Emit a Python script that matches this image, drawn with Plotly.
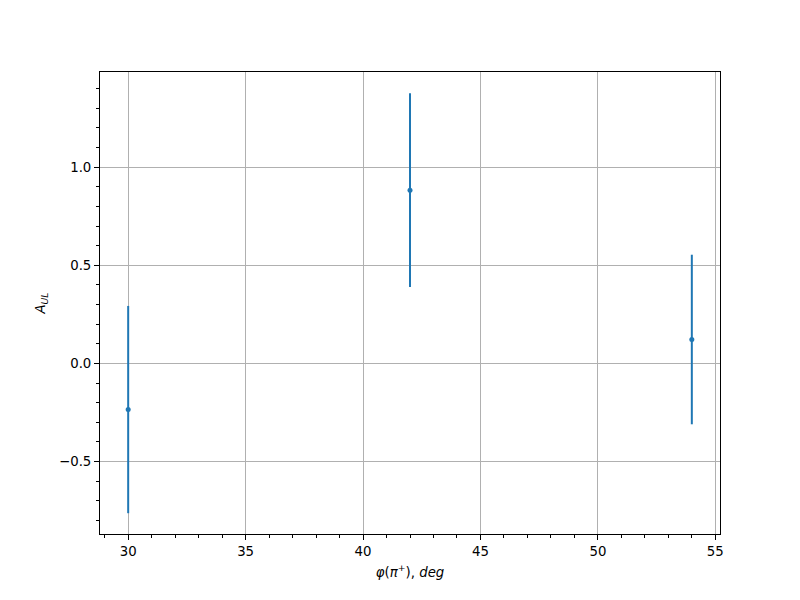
import plotly.graph_objects as go

phi = [30, 42, 54]
a_ul = [-0.235, 0.883, 0.122]
a_err = [0.528, 0.494, 0.432]

fig = go.Figure()
fig.add_trace(go.Scatter(
    x=phi, y=a_ul, mode="markers",
    marker=dict(color="#1f77b4", size=5),
    error_y=dict(type="data", array=a_err, visible=True, color="#1f77b4",
                 thickness=2, width=0),
    showlegend=False,
))

font = dict(family="DejaVu Sans", size=13.3, color="black")
# page body has an 8px default margin; compensate so the plot area sits at 100..720 x 72..534
fig.update_layout(
    width=792, height=592,
    margin=dict(l=92, r=80, t=64, b=66),
    paper_bgcolor="white", plot_bgcolor="white",
    font=font,
)
fig.update_xaxes(
    range=[28.8, 55.2], tickmode="array", tickvals=[30, 35, 40, 45, 50, 55],
    showgrid=True, gridcolor="#b0b0b0", gridwidth=1,
    showline=True, linecolor="black", linewidth=1, mirror=True,
    ticks="outside", ticklen=5, tickcolor="black",
    minor=dict(ticks="outside", dtick=1, ticklen=3, tickcolor="black", showgrid=False),
    zeroline=False, automargin=False,
    title=dict(text="<i>φ</i>(<i>π</i><sup>+</sup>), <i>deg</i>", standoff=9, font=font),
)
fig.update_yaxes(
    range=[-0.869, 1.485], tickmode="array", tickvals=[-0.5, 0.0, 0.5, 1.0],
    tickformat=".1f",
    showgrid=True, gridcolor="#b0b0b0", gridwidth=1,
    showline=True, linecolor="black", linewidth=1, mirror=True,
    ticks="outside", ticklen=5, tickcolor="black",
    minor=dict(ticks="outside", dtick=0.1, ticklen=3, tickcolor="black", showgrid=False),
    zeroline=False, automargin=False,
    title=dict(text="<i>A</i><sub><i>UL</i></sub>", standoff=10, font=font),
)
fig.write_html("out.html")
